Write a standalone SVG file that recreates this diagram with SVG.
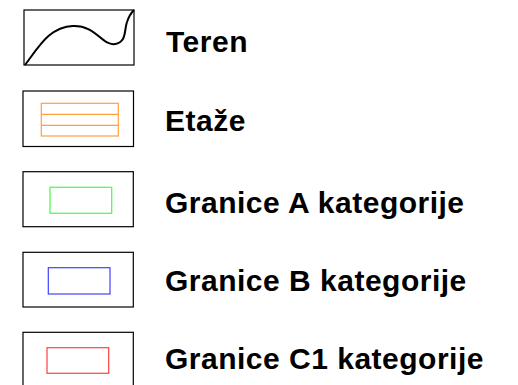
<svg xmlns="http://www.w3.org/2000/svg" width="518" height="385" viewBox="0 0 518 385">
<style>
.box{fill:#fff;stroke:#000;stroke-width:1.2}
.lbl{font-family:"Liberation Sans",Arial,sans-serif;font-weight:bold;font-size:30px;letter-spacing:0.5px;fill:#000}
.in{fill:none;stroke-width:1.2}
</style>
<rect width="518" height="385" fill="#fff"/>
<g id="teren">
<rect class="box" x="24" y="10" width="110" height="55"/>
<path d="M25,65 C40,45 50,27 73,26 C96,25 102,46 115,44 C127,42 124,30 127,22 C129,16 131,13 134,10" fill="none" stroke="#000" stroke-width="2"/>
<text class="lbl" x="166" y="52.3">Teren</text>
</g>
<g id="etaze">
<rect class="box" x="23" y="91" width="110.5" height="55.5"/>
<rect class="in" x="41.3" y="103.3" width="77" height="32.7" stroke="#ffa040"/>
<line x1="41.3" y1="114.3" x2="118.3" y2="114.3" stroke="#ffa040" stroke-width="1.2"/>
<line x1="41.3" y1="125.3" x2="118.3" y2="125.3" stroke="#ffa040" stroke-width="1.2"/>
<text class="lbl" x="165" y="131">Etaže</text>
</g>
<g id="granice-a">
<rect class="box" x="23" y="171.7" width="110.3" height="55"/>
<rect class="in" x="50" y="187.3" width="61.7" height="26" stroke="#40ff40"/>
<text class="lbl" x="165" y="213.3">Granice A kategorije</text>
</g>
<g id="granice-b">
<rect class="box" x="23" y="252.3" width="110.3" height="54.7"/>
<rect class="in" x="48.3" y="267.7" width="61.7" height="26.3" stroke="#4040ff"/>
<text class="lbl" x="165" y="290.7">Granice B kategorije</text>
</g>
<g id="granice-c1">
<rect class="box" x="23" y="332.3" width="110.3" height="55"/>
<rect class="in" x="47" y="347.7" width="61.7" height="25.6" stroke="#ff4040"/>
<text class="lbl" x="165" y="369.3">Granice C1 kategorije</text>
</g>
</svg>
